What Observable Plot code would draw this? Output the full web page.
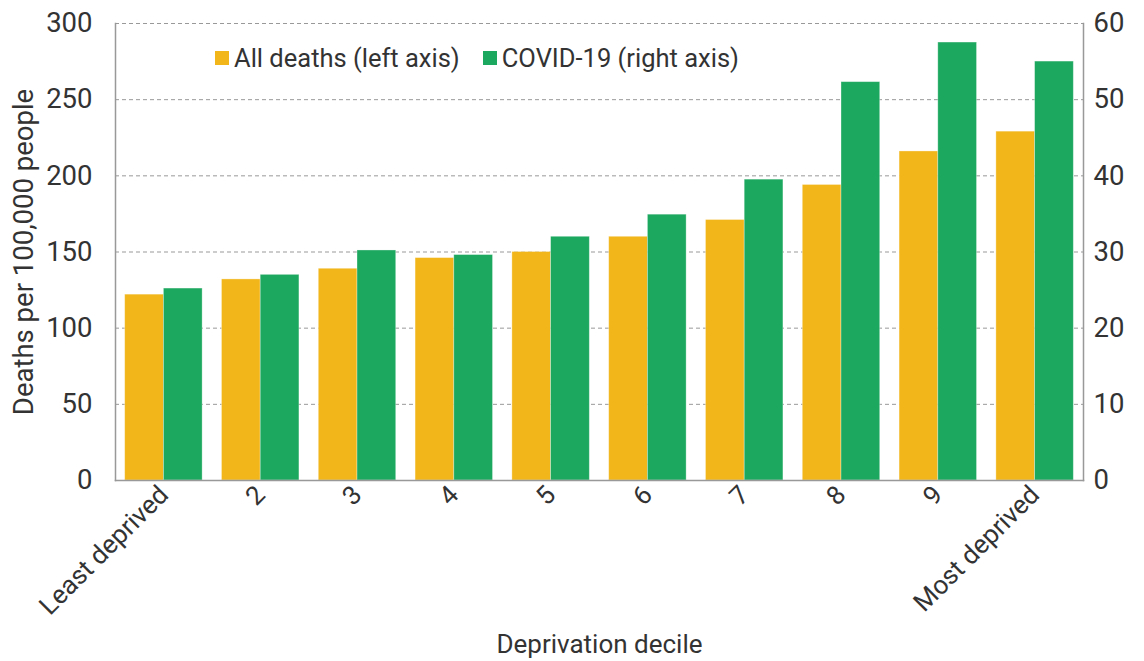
<!DOCTYPE html>
<html>
<head>
<meta charset="utf-8">
<script src="https://cdn.jsdelivr.net/npm/d3@7"></script>
<script src="https://cdn.jsdelivr.net/npm/@observablehq/plot@0.6"></script>
<style>
  html, body { margin: 0; padding: 0; background: #fff; }
  #wrap { position: relative; width: 1144px; height: 661px; font-family: Roboto, sans-serif; color: #333; }
  #legend { position: absolute; left: 215px; top: 43px; display: flex; align-items: center; font-size: 25.5px; color: #333; white-space: nowrap; }
  #legend .sw { display: inline-block; width: 14px; height: 14px; margin-right: 5px; }
  #legend .item { display: flex; align-items: center; margin-right: 23px; }
</style>
</head>
<body>
<div id="wrap"></div>
<script>
const deciles = ["Least deprived", "2", "3", "4", "5", "6", "7", "8", "9", "Most deprived"];
const seriesNames = ["All deaths (left axis)", "COVID-19 (right axis)"];
const allDeaths = [122, 132, 139, 146, 150, 160, 171, 194, 216, 229];
const covid = [25.2, 27.0, 30.2, 29.6, 32.0, 34.9, 39.5, 52.3, 57.5, 55.0];
const colors = ["#F2B61A", "#1DA85F"];
const leftTicks = [0, 50, 100, 150, 200, 250, 300];
const ratio = 5; // right axis 60 corresponds to left axis 300

const W = 1144, ML = 115, MR = 61;
const padIn = 0.2, padOut = 0.1;
const step = (W - ML - MR) / (deciles.length - padIn + 2 * padOut);
const half = step * (1 - padIn) / 2;

const allRows = deciles.map((d, i) => ({decile: d, series: seriesNames[0], y: allDeaths[i]}));
const covidRows = deciles.map((d, i) => ({decile: d, series: seriesNames[1], y: covid[i] * ratio}));

const chart = Plot.plot({
  width: W,
  height: 661,
  marginLeft: ML,
  marginRight: MR,
  marginTop: 23,
  marginBottom: 181,
  style: {fontFamily: "Roboto, sans-serif", fontSize: "26px", color: "#333", background: "white"},
  x: {domain: deciles, paddingInner: padIn, paddingOuter: padOut, round: false},
  y: {domain: [0, 300]},
  color: {domain: seriesNames, range: colors},
  marks: [
    Plot.ruleY(leftTicks.slice(1), {stroke: "#999", strokeDasharray: "4,3", strokeWidth: 1}),
    Plot.barY(allRows, {x: "decile", y: "y", fill: "series", insetRight: half, stroke: "#fff", strokeOpacity: 0.4, strokeWidth: 0.8}),
    Plot.barY(covidRows, {x: "decile", y: "y", fill: "series", insetLeft: half, stroke: "#fff", strokeOpacity: 0.4, strokeWidth: 0.8}),
    Plot.frame({anchor: "left", stroke: "#999", strokeWidth: 1.5}),
    Plot.frame({anchor: "right", stroke: "#999", strokeWidth: 1.5}),
    Plot.frame({anchor: "bottom", stroke: "#999", strokeWidth: 1.5}),
    Plot.axisY({anchor: "left", ticks: leftTicks, tickSize: 0, tickPadding: 23, fontSize: 27.5,
      label: "Deaths per 100,000 people", labelArrow: "none", labelAnchor: "center", labelOffset: 102}),
    Plot.axisY({anchor: "right", ticks: leftTicks, tickSize: 0, tickPadding: 10, fontSize: 27.5,
      tickFormat: d => d / ratio, label: null}),
    Plot.axisX({anchor: "bottom", tickSize: 0, tickPadding: 10, tickRotate: -45, fontSize: 26,
      label: "Deprivation decile", labelArrow: "none", labelAnchor: "center", labelOffset: 172})
  ]
});

const wrap = document.getElementById("wrap");
wrap.appendChild(chart);
const legend = document.createElement("div");
legend.id = "legend";
seriesNames.forEach((s, i) => {
  const item = document.createElement("div");
  item.className = "item";
  const sw = document.createElement("span");
  sw.className = "sw";
  sw.style.background = colors[i];
  item.appendChild(sw);
  item.appendChild(document.createTextNode(s));
  legend.appendChild(item);
});
wrap.appendChild(legend);
</script>
</body>
</html>
